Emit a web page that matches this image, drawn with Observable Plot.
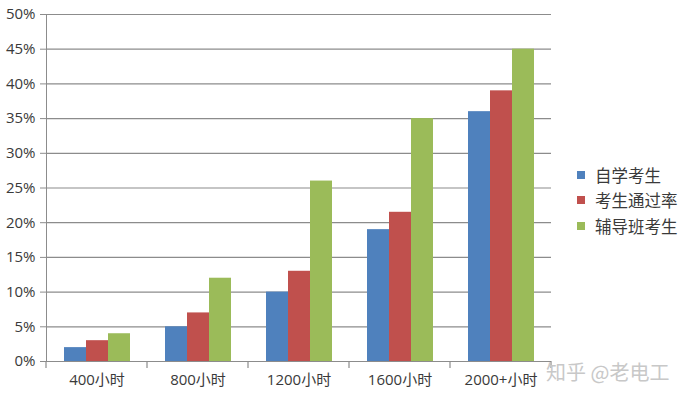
<!DOCTYPE html>
<html><head><meta charset="utf-8">
<script src="https://cdn.jsdelivr.net/npm/d3@7"></script>
<script src="https://cdn.jsdelivr.net/npm/@observablehq/plot@0.6"></script>
<style>
body{margin:0;background:#fff;}
#wrap{position:relative;width:693px;height:398px;font-family:"Open Sans","Noto Sans CJK SC",sans-serif;overflow:hidden;}
#wrap svg text{fill:#3a3a3a;}
.legend{position:absolute;left:577px;top:162px;font-size:16.5px;color:#3a3a3a;font-family:"Noto Sans CJK SC",sans-serif;}
.legend .row{height:25.5px;display:flex;align-items:center;}
.legend .sw{width:8px;height:8px;margin-right:10px;}
.wm{position:absolute;left:546px;top:357px;font-size:20px;color:#c8c8c8;font-family:"Noto Sans CJK SC",sans-serif;white-space:nowrap;}
</style></head><body><div id="wrap"></div>
<script>
const categories = ["400小时", "800小时", "1200小时", "1600小时", "2000+小时"];
const seriesNames = ["自学考生", "考生通过率", "辅导班考生"];
const selfStudy = [2, 5, 10, 19, 36];
const passRate = [3, 7, 13, 21.5, 39];
const tutoring = [4, 12, 26, 35, 45];
const yTicks = [0, 5, 10, 15, 20, 25, 30, 35, 40, 45, 50];
const colors = ["#4F81BD", "#C0504D", "#9BBB59"];
const watermark = "知乎 @老电工";

const seriesArrays = [selfStudy, passRate, tutoring];
const data = categories.flatMap((c, i) => seriesArrays.map((arr, j) => ({category: c, series: seriesNames[j], value: arr[i]})));

const grid = "#8c8c8c";
const chart = Plot.plot({
  width: 693, height: 398,
  marginLeft: 44, marginRight: 140, marginTop: 14, marginBottom: 37,
  style: {fontFamily: '"Open Sans","Noto Sans CJK SC",sans-serif', fontSize: "15px", color: grid, background: "transparent"},
  facet: {data, x: "category"},
  fx: {domain: categories, padding: 0, label: null, axis: "bottom", tickSize: 0, tickPadding: 13},
  x: {domain: seriesNames, paddingInner: 0, paddingOuter: 0.752, axis: null},
  y: {domain: [0, 50], ticks: yTicks, tickFormat: d => d + "%", tickSize: 6, tickPadding: 5, label: null, line: true},
  color: {domain: seriesNames, range: colors},
  marks: [
    Plot.ruleY(yTicks, {stroke: grid, strokeWidth: 1.2}),
    Plot.barY(data, {x: "series", y: "value", fill: "series"})
  ]
});
const wrap = document.getElementById("wrap");
wrap.appendChild(chart);

// category boundary ticks below the x axis, from the library's fx and y scales
const fx = chart.scale("fx");
const ys = chart.scale("y");
const y0 = ys.apply(0);
const bounds = categories.map(c => fx.apply(c)).concat([fx.apply(categories[categories.length - 1]) + fx.step]);
const svg = d3.select(chart);
svg.append("g").selectAll("line").data(bounds).join("line")
  .attr("x1", d => d).attr("x2", d => d)
  .attr("y1", y0).attr("y2", y0 + 7)
  .attr("stroke", grid).attr("stroke-width", 1.2);

// legend
const leg = d3.select(wrap).append("div").attr("class", "legend");
const rows = leg.selectAll(".row").data(seriesNames).join("div").attr("class", "row");
rows.append("div").attr("class", "sw").style("background", (d, i) => colors[i]);
rows.append("span").text(d => d);

d3.select(wrap).append("div").attr("class", "wm").text(watermark);
</script>
</body></html>
